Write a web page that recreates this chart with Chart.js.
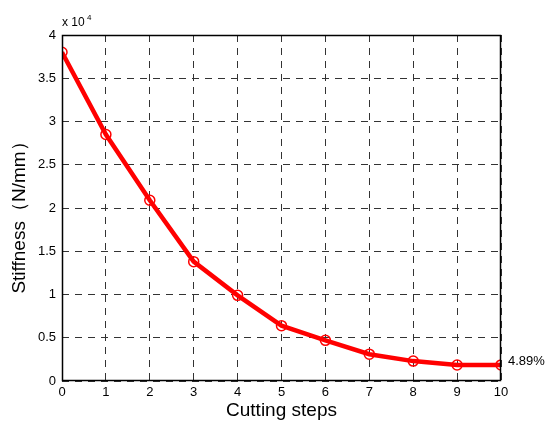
<!DOCTYPE html>
<html>
<head>
<meta charset="utf-8">
<script src="https://cdn.jsdelivr.net/npm/chart.js@4"></script>
<style>
  html, body { margin: 0; padding: 0; background: #fff; }
  #wrap { width: 545px; height: 424px; }
</style>
</head>
<body>
<div id="wrap"><canvas id="myChart"></canvas></div>
<script>
// cutting steps and stiffness (x 10^4 N/mm)
let steps = [0, 1, 2, 3, 4, 5, 6, 7, 8, 9, 10]
let stiffness = [3.80, 2.85, 2.09, 1.38, 0.99, 0.64, 0.47, 0.31, 0.23, 0.185, 0.186]
let yTicks = [0, 0.5, 1, 1.5, 2, 2.5, 3, 3.5, 4]
let lastLabel = '4.89%'

let font = "Arial, 'Liberation Sans', sans-serif"

let points = steps.map(function(s, i) {
    return { x: s, y: stiffness[i] }
})

// frame, titles, exponent and the end label
let extras = {
    id: 'extras',
    afterDraw: function(chart) {
        let ctx = chart.ctx
        let a = chart.chartArea
        ctx.save()
        ctx.strokeStyle = '#000'
        ctx.lineWidth = 1.5
        ctx.setLineDash([])
        ctx.strokeRect(a.left + 0.5, a.top + 0.5, a.right - a.left - 1, a.bottom - a.top - 1)

        ctx.fillStyle = '#000'
        ctx.font = '12px ' + font
        ctx.textAlign = 'left'
        ctx.textBaseline = 'alphabetic'
        ctx.fillText('x 10', a.left, a.top - 9)
        ctx.font = '8px ' + font
        ctx.fillText('4', a.left + 25, a.top - 15)

        ctx.font = '19px ' + font
        ctx.textAlign = 'center'
        ctx.textBaseline = 'middle'
        ctx.fillText('Cutting steps', (a.left + a.right) / 2, 411)

        ctx.translate(20, 213)
        ctx.rotate(-Math.PI / 2)
        ctx.fillText('Stiffness\uFF08N/mm\uFF09', 0, 0)
        ctx.restore()

        ctx.save()
        let xs = chart.scales.x
        let ys = chart.scales.y
        let n = steps.length - 1
        ctx.font = '13px ' + font
        ctx.fillStyle = '#000'
        ctx.textAlign = 'left'
        ctx.textBaseline = 'middle'
        ctx.fillText(lastLabel, xs.getPixelForValue(steps[n]) + 7, ys.getPixelForValue(stiffness[n]) - 3)
        ctx.restore()
    }
}

let chart = new Chart(document.getElementById('myChart'), {
    type: 'line',
    data: {
        datasets: [{
            data: points,
            borderColor: '#ff0000',
            backgroundColor: 'rgba(0,0,0,0)',
            borderWidth: 4.5,
            pointRadius: 5,
            pointBorderWidth: 1.5,
            pointBorderColor: '#ff0000',
            pointBackgroundColor: 'rgba(0,0,0,0)',
            tension: 0
        }]
    },
    options: {
        responsive: true,
        maintainAspectRatio: false,
        animation: false,
        layout: { padding: { left: 0, right: 44, top: 35, bottom: 0 } },
        plugins: {
            legend: { display: false },
            tooltip: { enabled: false }
        },
        scales: {
            x: {
                type: 'linear',
                min: 0,
                max: 10,
                afterBuildTicks: function(axis) {
                    axis.ticks = steps.map(function(v) { return { value: v } })
                },
                afterFit: function(axis) { axis.height = 43 },
                grid: {
                    color: '#333',
                    lineWidth: 1,
                    drawTicks: false,
                    tickLength: 0
                },
                border: { display: false, dash: [7, 6] },
                ticks: {
                    color: '#000',
                    font: { family: font, size: 13 },
                    padding: 4,
                    maxRotation: 0
                }
            },
            y: {
                min: 0,
                max: 4,
                afterBuildTicks: function(axis) {
                    axis.ticks = yTicks.map(function(v) { return { value: v } })
                },
                afterFit: function(axis) { axis.width = 62 },
                grid: {
                    color: '#333',
                    lineWidth: 1,
                    drawTicks: false,
                    tickLength: 0
                },
                border: { display: false, dash: [7, 6] },
                ticks: {
                    color: '#000',
                    font: { family: font, size: 13 },
                    padding: 6,
                    callback: function(v) { return String(v) }
                }
            }
        }
    },
    plugins: [extras]
})
</script>
</body>
</html>
